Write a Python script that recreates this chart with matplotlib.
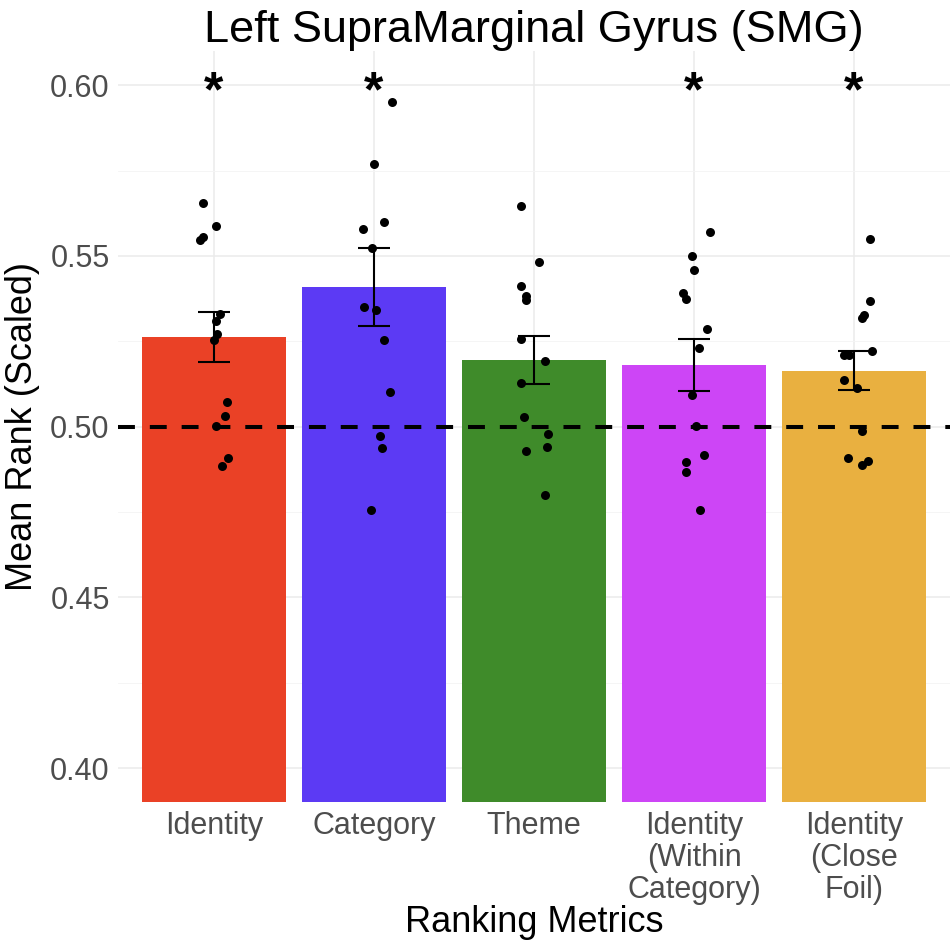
import matplotlib
matplotlib.use('Agg')
import matplotlib.pyplot as plt
import numpy as np

plt.rcParams['font.family'] = ['Liberation Sans', 'DejaVu Sans']

metrics = ['Identity', 'Category', 'Theme', 'Identity\n(Within\nCategory)', 'Identity\n(Close\nFoil)']
colors  = ['#EA4126', '#5C3AF4', '#3F8B2A', '#CD45F6', '#E9B040']
signif  = [True, True, False, True, True]

# subject values (one Category point sits above the panel)
identity = [0.5655, 0.5587, 0.5556, 0.5548, 0.5331, 0.5309, 0.5271, 0.5255, 0.5073, 0.5031, 0.5001, 0.4909, 0.4884]
category = [0.6180, 0.5950, 0.5768, 0.5600, 0.5580, 0.5522, 0.5351, 0.5343, 0.5255, 0.5101, 0.4973, 0.4938, 0.4756]
theme    = [0.5647, 0.5482, 0.5413, 0.5382, 0.5370, 0.5258, 0.5192, 0.5128, 0.5027, 0.4977, 0.4941, 0.4929, 0.4799]
within   = [0.5569, 0.5500, 0.5459, 0.5390, 0.5374, 0.5287, 0.5229, 0.5094, 0.5002, 0.4917, 0.4897, 0.4867, 0.4757]
closefoil = [0.5549, 0.5367, 0.5327, 0.5319, 0.5223, 0.5209, 0.5209, 0.5138, 0.5114, 0.4987, 0.4907, 0.4889, 0.4899]

# horizontal jitter of each point (category units)
jit_identity = [-0.07, 0.01, -0.07, -0.09, 0.04, 0.01, 0.02, 0.00, 0.08, 0.07, 0.01, 0.09, 0.05]
jit_category = [0.05, 0.11, 0.00, 0.06, -0.07, -0.01, -0.06, 0.01, 0.06, 0.10, 0.04, 0.05, -0.02]
jit_theme    = [-0.08, 0.03, -0.08, -0.05, -0.05, -0.08, 0.07, -0.08, -0.06, 0.09, 0.08, -0.05, 0.07]
jit_within   = [0.10, -0.01, 0.00, -0.07, -0.05, 0.08, 0.03, -0.01, 0.01, 0.06, -0.05, -0.05, 0.04]
jit_closefoil = [0.10, 0.10, 0.06, 0.05, 0.11, -0.06, -0.03, -0.06, 0.02, 0.05, -0.04, 0.05, 0.09]

groups = [identity, category, theme, within, closefoil]
jitters = [jit_identity, jit_category, jit_theme, jit_within, jit_closefoil]

ymin, ymax = 0.39, 0.61

fig = plt.figure(figsize=(9.52, 9.46), dpi=100)
ax = fig.add_axes([0.124, 0.152, 0.874, 0.794])

x = np.arange(len(metrics))
means = np.array([np.mean(g) for g in groups])
ses = np.array([np.std(g, ddof=1) / np.sqrt(len(g)) for g in groups])

ax.bar(x, means - ymin, bottom=ymin, width=0.9, color=colors, zorder=2)
ax.axhline(0.5, color='black', lw=2.9, ls=(0, (4.2, 3.7)), zorder=3)
ax.errorbar(x, means, yerr=ses, fmt='none', ecolor='black', elinewidth=1.5,
            capsize=11.5, capthick=1.5, zorder=4)
for i, (g, j) in enumerate(zip(groups, jitters)):
    ax.scatter(i + np.array(j), g, s=42, color='black', zorder=5, linewidths=0)
for i, s in enumerate(signif):
    if s:
        ax.annotate('*', (i, 0.600), xytext=(0, -5.5), textcoords='offset points',
                    ha='center', va='center', fontsize=36, fontweight='bold', zorder=6)

ax.set_xlim(-0.6, len(metrics) - 0.4)
ax.set_ylim(ymin, ymax)
ax.set_yticks([0.40, 0.45, 0.50, 0.55, 0.60])
ax.set_yticks([0.425, 0.475, 0.525, 0.575], minor=True)
ax.set_xticks(x)
ax.set_xticklabels(metrics, fontsize=22, color='#4D4D4D', linespacing=1.1)
ax.tick_params(axis='y', labelsize=22, labelcolor='#4D4D4D', length=0, pad=6)
ax.tick_params(axis='y', which='minor', length=0)
ax.tick_params(axis='x', length=0, pad=6)
ax.grid(True, which='major', color='#EBEBEB', lw=1.1, zorder=0)
ax.grid(True, which='minor', axis='y', color='#F4F4F4', lw=0.6, zorder=0)
ax.set_axisbelow(True)
for sp in ax.spines.values():
    sp.set_visible(False)

ax.set_xlabel('Ranking Metrics', fontsize=26, labelpad=0)
ax.set_ylabel('Mean Rank (Scaled)', fontsize=26, labelpad=7)
ax.set_title('Left SupraMarginal Gyrus (SMG)', fontsize=32.5, pad=6)

fig.savefig('out.png', dpi=100)
